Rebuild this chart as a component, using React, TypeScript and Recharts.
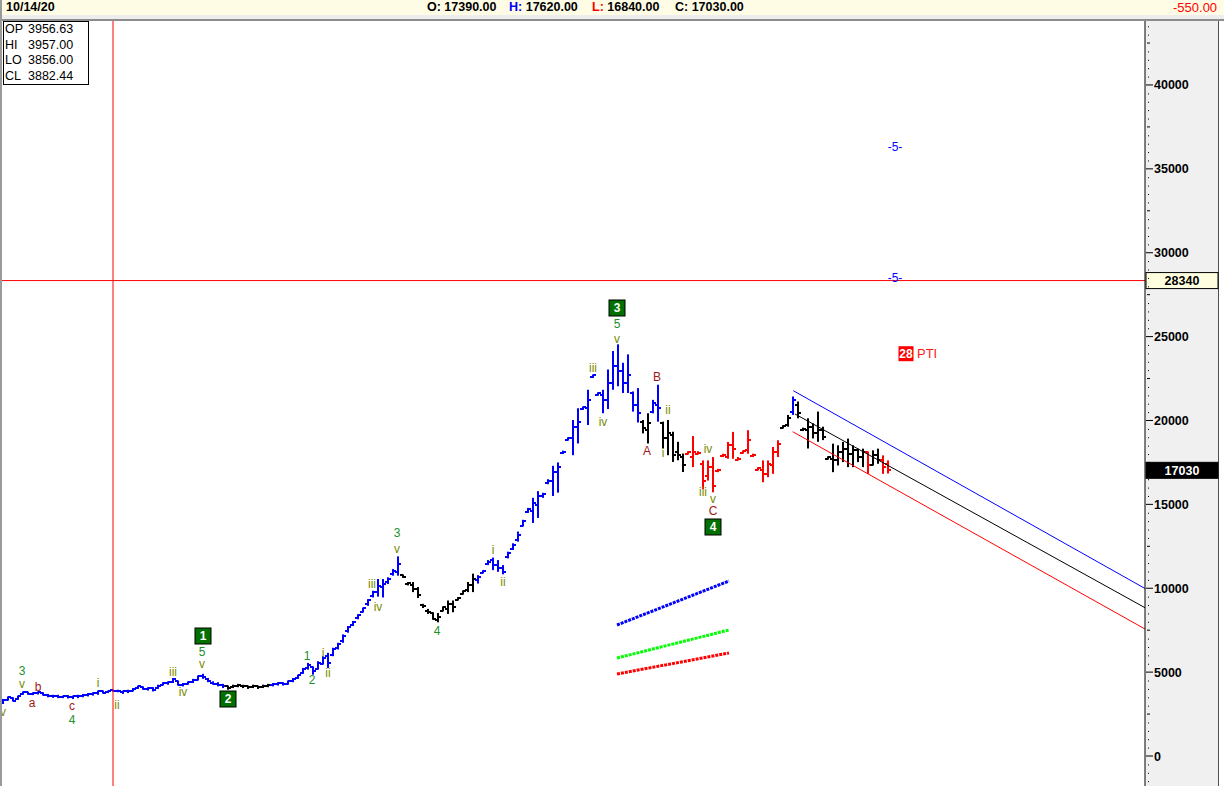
import React from 'react';
import {
  ComposedChart,
  XAxis,
  YAxis,
  Bar,
  Scatter,
  ReferenceLine,
  ReferenceDot,
} from 'recharts';

// high, low, open, close
type Ohlc = [number, number, number, number];

const BLUE = '#0000ff';
const BLACK = '#000000';
const RED = '#ff0000';
const FONT = '"Liberation Sans", Arial, sans-serif';

const X_MIN = -0.6;
const X_MAX = 228.4;
const Y_MIN = -1788;
const Y_MAX = 43813;

const waveOneBlue: Ohlc[] = [
  [3400, 3100, 3150, 3350], [3550, 3300, 3350, 3500], [3500, 3250, 3450, 3300], [3600, 3350, 3400, 3550],
  [3850, 3650, 3700, 3800], [3830, 3650, 3800, 3700], [3800, 3630, 3700, 3750], [3850, 3670, 3750, 3800],
  [3800, 3600, 3750, 3650], [3700, 3500, 3650, 3550], [3650, 3470, 3550, 3600], [3650, 3450, 3600, 3500],
  [3600, 3450, 3500, 3550], [3630, 3430, 3550, 3500], [3600, 3400, 3500, 3550], [3650, 3450, 3550, 3600],
  [3700, 3500, 3600, 3650], [3750, 3550, 3650, 3700], [3800, 3600, 3700, 3750], [3900, 3650, 3750, 3850],
  [3900, 3720, 3850, 3780], [3900, 3750, 3800, 3850], [3957, 3856, 3956.63, 3882.44], [3950, 3800, 3850, 3900],
  [3900, 3700, 3800, 3850], [3950, 3750, 3850, 3900], [4050, 3850, 3900, 4000], [4200, 4000, 4050, 4150],
  [4150, 3950, 4100, 4000], [4100, 3900, 4000, 4050], [4100, 3850, 4050, 3950], [4250, 4000, 4050, 4200],
  [4400, 4200, 4250, 4350], [4450, 4250, 4350, 4400], [4650, 4350, 4400, 4600], [4500, 4200, 4450, 4250],
  [4350, 4150, 4250, 4300], [4450, 4250, 4300, 4400], [4600, 4350, 4400, 4550], [4800, 4500, 4550, 4750],
  [4900, 4600, 4750, 4700], [4650, 4400, 4600, 4450], [4450, 4250, 4350, 4300], [4400, 4150, 4300, 4250],
  [4300, 4050, 4250, 4150],
];

const waveTwoBlack: Ohlc[] = [
  [4200, 3950, 4150, 4050], [4250, 4050, 4100, 4200], [4300, 4100, 4200, 4250], [4250, 4050, 4200, 4150],
  [4200, 4000, 4150, 4100], [4250, 4050, 4100, 4200], [4200, 4000, 4150, 4100], [4250, 4050, 4100, 4200],
  [4300, 4100, 4200, 4250],
];

const waveThreeBlue: Ohlc[] = [
  [4350, 4150, 4250, 4300], [4400, 4200, 4300, 4350], [4400, 4200, 4350, 4300], [4500, 4250, 4300, 4450],
  [4650, 4400, 4450, 4600], [4850, 4600, 4650, 4800], [5250, 4900, 4950, 5200], [5550, 5150, 5250, 5450],
  [5350, 4850, 5300, 5050], [5650, 5150, 5200, 5550], [5950, 5450, 5500, 5850], [6150, 5250, 5950, 5550],
  [6450, 5950, 6050, 6350], [6750, 6350, 6450, 6650], [7250, 6750, 6850, 7150], [7750, 7350, 7450, 7700],
  [8050, 7750, 7800, 8000], [8450, 8150, 8200, 8400], [8850, 8550, 8600, 8800], [9350, 8950, 9050, 9300],
  [9850, 9450, 9550, 9750], [10550, 9500, 9750, 10150], [10550, 9450, 10050, 10250], [10650, 10250, 10350, 10550],
  [11150, 10750, 10850, 11050], [11900, 10750, 10950, 11450],
];

const waveFourBlack: Ohlc[] = [
  [10820, 10620, 10770, 10670], [10370, 10170, 10270, 10320], [10370, 9770, 10170, 9970], [10070, 9420, 9970, 9570],
  [9070, 8820, 9020, 8920], [8770, 8470, 8670, 8570], [8570, 8120, 8520, 8170], [8520, 7970, 8120, 8270],
  [8920, 8620, 8670, 8870], [9270, 8470, 8770, 9070], [9270, 8570, 9070, 8870], [9470, 9270, 9320, 9420],
  [9870, 9620, 9670, 9820], [10370, 9770, 9870, 10170], [10870, 9770, 10170, 10570],
];

const waveFiveBlue: Ohlc[] = [
  [10780, 10280, 10480, 10680], [11080, 10880, 10930, 11030], [11680, 11380, 11430, 11580], [11830, 11080, 11680, 11380],
  [11680, 10980, 11380, 11180], [11380, 10830, 11180, 10980], [12180, 11780, 11880, 12130], [12680, 12280, 12330, 12580],
  [13380, 12780, 12880, 13180], [14080, 13680, 13730, 13980], [14790, 14490, 14540, 14740], [15390, 13890, 14590, 15090],
  [15790, 14190, 14990, 15490], [15690, 15390, 15490, 15590], [16500, 16200, 16250, 16400], [17300, 15500, 16400, 16900],
  [17500, 15700, 16900, 17200], [18200, 18000, 18050, 18150], [19000, 18800, 18850, 18950], [20030, 17930, 18930, 19630],
  [20730, 18630, 19630, 19930], [20830, 20630, 20680, 20780], [21830, 19730, 20730, 21230], [22740, 22540, 22590, 22690],
  [21680, 21480, 21530, 21630], [21830, 20430, 21530, 21230], [23040, 20680, 21230, 22240], [24140, 21830, 22240, 23240],
  [24540, 22040, 23240, 22940], [23440, 21640, 22940, 22240], [23940, 21640, 22240, 22740], [21730, 20530, 21630, 20930],
  [21930, 19880, 20930, 20430],
];

const corrABlack: Ohlc[] = [[20030, 19230, 19930, 19530], [20430, 18630, 19430, 19830]];
const corrBBlue: Ohlc[] = [[21230, 20430, 20530, 21030], [22130, 19930, 20930, 20730]];
const corrCBlack: Ohlc[] = [
  [19930, 18330, 19830, 18930], [20030, 17930, 18930, 19230], [19330, 17530, 19130, 17930], [18730, 17630, 18130, 17930],
  [18030, 16930, 17830, 17330],
];
const corrCRed: Ohlc[] = [
  [18170, 17970, 18020, 18120], [19070, 17220, 17820, 18120], [18170, 17970, 18020, 18070], [17620, 15920, 17420, 16420],
  [17620, 16420, 16720, 17220], [17820, 15720, 17220, 16120], [17120, 16920, 16970, 17070], [18020, 17820, 17870, 17970],
  [18720, 17720, 17820, 18520], [19320, 17720, 18520, 18320], [17820, 17620, 17670, 17720], [18220, 18020, 18070, 18170],
  [19420, 18020, 18220, 18820], [18020, 17820, 17870, 17920], [17220, 17020, 17070, 17170], [17620, 16320, 17020, 16820],
  [17620, 16620, 16820, 17420], [18420, 16820, 17320, 18120], [18820, 17820, 18120, 18620],
];
const reboundBlack: Ohlc[] = [[19720, 19520, 19570, 19670], [20330, 19630, 19730, 20130]];
const reboundBlue: Ohlc[] = [[21430, 20330, 20530, 21230]];
const channelBlack: Ohlc[] = [
  [21130, 20130, 20930, 20430], [19570, 19370, 19420, 19520], [20130, 18330, 19430, 19630], [19830, 18930, 19630, 19230],
  [20530, 18730, 19230, 19430], [19630, 18830, 19430, 19030], [17870, 17670, 17720, 17820], [18620, 16920, 17720, 17620],
  [18520, 17320, 17620, 18120], [18720, 17520, 18120, 18320], [18920, 17220, 18320, 18020], [18520, 17220, 18020, 18220],
  [18320, 17520, 18220, 17820], [18320, 17220, 17820, 18120],
];
const channelRedA: Ohlc[] = [[18150, 16820, 18120, 17320]];
const channelBlackB: Ohlc[] = [[18220, 17320, 17320, 17920], [18320, 17420, 17920, 17620]];
const channelRedC: Ohlc[] = [[17920, 16820, 17620, 17220], [17620, 16840, 17390, 17030]];

const segments: [Ohlc[], string][] = [
  [waveOneBlue, BLUE], [waveTwoBlack, BLACK], [waveThreeBlue, BLUE], [waveFourBlack, BLACK],
  [waveFiveBlue, BLUE], [corrABlack, BLACK], [corrBBlue, BLUE], [corrCBlack, BLACK], [corrCRed, RED],
  [reboundBlack, BLACK], [reboundBlue, BLUE], [channelBlack, BLACK], [channelRedA, RED],
  [channelBlackB, BLACK], [channelRedC, RED],
];

// [bar index, price, text, kind]
const waveLabels: [number, number, string, string][] = [
  [0, 2623, 'v', 'o'], [3.8, 5100, '3', 'g'], [3.8, 4330, 'v', 'o'], [5.8, 3159, 'a', 'r'], [7, 4113, 'b', 'r'],
  [13.8, 2980, 'c', 'r'], [13.8, 2150, '4', 'g'], [19, 4352, 'i', 'o'], [22.8, 3040, 'ii', 'o'],
  [34, 5007, 'iii', 'o'], [36, 3815, 'iv', 'o'], [39.8, 6230, '5', 'g'], [39.8, 5500, 'v', 'o'], [40, 7153, '1', 'box'],
  [45, 3398, '2', 'box'], [60.8, 5961, '1', 'g'], [61.8, 4530, '2', 'g'], [64, 6140, 'i', 'o'], [65, 4948, 'ii', 'o'],
  [73.8, 10253, 'iii', 'o'], [75, 8882, 'iv', 'o'], [78.8, 13300, '3', 'g'], [78.8, 12360, 'v', 'o'], [86.8, 7451, '4', 'g'],
  [98, 12280, 'i', 'o'], [100, 10372, 'ii', 'o'], [118, 23129, 'iii', 'o'], [120, 19910, 'iv', 'o'],
  [122.8, 26705, '3', 'box'], [122.8, 25800, '5', 'g'], [122.8, 24890, 'v', 'o'], [128.8, 18181, 'A', 'r'],
  [130.8, 22592, 'B', 'r'], [133, 20625, 'ii', 'o'], [132, 18062, 'i', 'o'], [141, 18300, 'iv', 'o'],
  [140, 15737, 'iii', 'o'], [142, 15320, 'v', 'o'], [142, 14604, 'C', 'r'], [142, 13651, '4', 'box'],
  [178.4, 36302, '-5-', 'b'], [178.4, 28494, '-5-', 'b'], [180.6, 23981, '28', 'pti'],
];

// [x0, y0, x1, y1]
const channelUpper = [158.06, 21776, 228.4, 9985];
const channelMid = [158.4, 20387, 228.4, 8840];
const channelLower = [157.94, 19332, 228.4, 7570];
const projBlue = [122.8, 7809, 145.2, 10432];
const projGreen = [122.8, 5842, 145.2, 7511];
const projRed = [122.8, 4888, 145.2, 6140];

const majorTicks = [0, 5000, 10000, 15000, 20000, 25000, 30000, 35000, 40000];
const cursorLine = 22;
const targetPrice = 28340;
const lastPrice = 17030;

const bars: { i: number; high: number; low: number; open: number; close: number; color: string }[] = [];
segments.forEach(([seg, color]) => {
  seg.forEach(([high, low, open, close]) => {
    bars.push({ i: bars.length, high, low, open, close, color });
  });
});

const labelRows = waveLabels.map(([i, v, text, kind]) => ({ i, v, text, kind }));

const yTicks: number[] = [];
for (let v = -1500; v <= 43500; v += 500) yTicks.push(v);

function OhlcShape(props: any) {
  const { x, y, width, height } = props;
  const p = props.payload ?? props;
  const top = Math.min(y, y + height);
  const h = Math.abs(height);
  const cx = Math.round(x + width / 2);
  const span = p.high - p.low || 1;
  const py = (v: number) => top + ((p.high - v) / span) * h;
  return (
    <g>
      <rect x={cx - 1} y={top} width={2} height={Math.max(h, 2)} fill={p.color} />
      <rect x={cx - 3} y={Math.round(py(p.open)) - 1} width={3} height={2} fill={p.color} />
      <rect x={cx} y={Math.round(py(p.close)) - 1} width={3} height={2} fill={p.color} />
    </g>
  );
}

const labelColors: Record<string, string> = {
  g: '#22902a',
  o: '#7a8a00',
  r: '#a01818',
  b: '#0000ff',
};

function WaveLabel(props: any) {
  const { cx, cy } = props;
  const { text, kind } = props.payload ?? props;
  if (kind === 'box') {
    return (
      <g>
        <rect x={cx - 8} y={cy - 8} width={16} height={16} fill="#007000" stroke="#000" />
        <text x={cx} y={cy} dy="0.36em" textAnchor="middle" fill="#fff" fontWeight="bold" fontSize={12} fontFamily={FONT}>
          {text}
        </text>
      </g>
    );
  }
  if (kind === 'pti') {
    return (
      <g>
        <rect x={cx - 7.5} y={cy - 7.5} width={15} height={15} fill="#ff0000" />
        <text x={cx} y={cy} dy="0.36em" textAnchor="middle" fill="#fff" fontWeight="bold" fontSize={12} fontFamily={FONT}>
          {text}
        </text>
        <text x={cx + 11} y={cy} dy="0.36em" fill="#ff1a1a" fontSize={13} fontFamily={FONT}>
          PTI
        </text>
      </g>
    );
  }
  return (
    <text x={cx} y={cy} dy="0.36em" textAnchor="middle" fill={labelColors[kind]} fontSize={12} fontFamily={FONT}>
      {text}
    </text>
  );
}

function PriceTick(props: any) {
  const { x, y, payload } = props;
  const v = payload.value;
  if (majorTicks.includes(v)) {
    return (
      <g>
        <line x1={x + 1} x2={x + 8} y1={y} y2={y} stroke="#000" />
        <text x={x + 9} y={y} dy="0.36em" fontSize={12.5} fontWeight="bold" fontFamily={FONT} fill="#000">
          {v}
        </text>
      </g>
    );
  }
  if (v % 2500 === 0) return <line x1={x + 2} x2={x + 5} y1={y} y2={y} stroke="#000" />;
  return <rect x={x + 3} y={y} width={1} height={1} fill="#000" />;
}

function PriceBox({ cx, cy, value, dark }: any) {
  return (
    <g>
      <rect x={cx + 1} y={cy - 8} width={72} height={16} fill={dark ? '#000' : '#ffffe0'} stroke="#000" />
      <text x={cx + 37} y={cy} dy="0.36em" textAnchor="middle" fontSize={12.5} fontWeight="bold" fontFamily={FONT} fill={dark ? '#fff' : '#000'}>
        {value}
      </text>
    </g>
  );
}

function seg(s: number[]) {
  return [{ x: s[0], y: s[1] }, { x: s[2], y: s[3] }];
}

export default function App() {
  const headBold: React.CSSProperties = { position: 'absolute', top: 0, fontWeight: 'bold', fontSize: 12.5 };
  return (
    <div
      style={{
        position: 'fixed',
        left: 0,
        top: 0,
        width: 1224,
        height: 786,
        background: '#fff',
        overflow: 'hidden',
        fontFamily: FONT,
        color: '#000',
      }}
    >
      <div style={{ position: 'absolute', left: 0, top: 0, width: 1224, height: 15, background: '#fffce6' }} />
      <div style={{ position: 'absolute', left: 0, top: 15, width: 1224, height: 4, background: '#ededed' }} />
      <div style={{ position: 'absolute', left: 0, top: 19, width: 1224, height: 2, background: '#8c8c8c' }} />
      <span style={{ ...headBold, left: 6 }}>10/14/20</span>
      <span style={{ ...headBold, left: 427 }}>O: 17390.00</span>
      <span style={{ ...headBold, left: 509 }}>
        <span style={{ color: '#0000ff' }}>H:</span> 17620.00
      </span>
      <span style={{ ...headBold, left: 592 }}>
        <span style={{ color: '#ff0000' }}>L:</span> 16840.00
      </span>
      <span style={{ ...headBold, left: 675 }}>C: 17030.00</span>
      <span style={{ position: 'absolute', top: 0, left: 1173, fontSize: 13, color: '#ff0000' }}>-550.00</span>

      <div style={{ position: 'absolute', left: 1145, top: 21, width: 73, height: 765, background: '#f0f0f0' }} />
      <div style={{ position: 'absolute', left: 1218, top: 21, width: 1, height: 765, background: '#505050' }} />

      <div style={{ position: 'absolute', left: 0, top: 21 }}>
        <ComposedChart width={1219} height={765} data={bars} margin={{ top: 0, right: 0, bottom: 0, left: 0 }}>
          <XAxis dataKey="i" type="number" domain={[X_MIN, X_MAX]} allowDataOverflow hide />
          <YAxis
            orientation="right"
            type="number"
            domain={[Y_MIN, Y_MAX]}
            allowDataOverflow
            width={74}
            ticks={yTicks}
            interval={0}
            tick={<PriceTick />}
            tickLine={false}
            tickSize={0}
            tickMargin={0}
            axisLine={{ stroke: '#000' }}
          />
          <ReferenceLine x={cursorLine} stroke={RED} />
          <ReferenceLine y={targetPrice} stroke={RED} />
          <ReferenceLine segment={seg(channelUpper)} stroke={BLUE} />
          <ReferenceLine segment={seg(channelMid)} stroke={BLACK} />
          <ReferenceLine segment={seg(channelLower)} stroke={RED} />
          <ReferenceLine segment={seg(projBlue)} stroke={BLUE} strokeWidth={3} strokeDasharray="3 1" />
          <ReferenceLine segment={seg(projGreen)} stroke="#00ff00" strokeWidth={3} strokeDasharray="3 1" />
          <ReferenceLine segment={seg(projRed)} stroke={RED} strokeWidth={3} strokeDasharray="3 1" />
          <Bar dataKey={(d: any) => [d.low, d.high]} shape={OhlcShape} barSize={4} isAnimationActive={false} />
          <Scatter data={labelRows} dataKey="v" shape={WaveLabel} isAnimationActive={false} />
          <ReferenceDot
            x={X_MAX}
            y={targetPrice}
            r={0}
            ifOverflow="visible"
            shape={(p: any) => <PriceBox cx={p.cx} cy={p.cy} value={targetPrice} />}
          />
          <ReferenceDot
            x={X_MAX}
            y={lastPrice}
            r={0}
            ifOverflow="visible"
            shape={(p: any) => <PriceBox cx={p.cx} cy={p.cy} value={lastPrice} dark />}
          />
        </ComposedChart>
      </div>

      <div
        style={{
          position: 'absolute',
          left: 3,
          top: 21,
          width: 84,
          height: 62,
          border: '1px solid #000',
          background: '#fff',
          fontSize: 12.5,
          lineHeight: '15.5px',
        }}
      >
        {[
          ['OP', '3956.63'],
          ['HI', '3957.00'],
          ['LO', '3856.00'],
          ['CL', '3882.44'],
        ].map(([k, v]) => (
          <div key={k} style={{ position: 'relative', height: 15.5 }}>
            <span style={{ position: 'absolute', left: 1 }}>{k}</span>
            <span style={{ position: 'absolute', left: 24 }}>{v}</span>
          </div>
        ))}
      </div>
      <div style={{ position: 'absolute', left: 0, top: 0, width: 2, height: 786, background: '#9a9a9a' }} />
    </div>
  );
}
